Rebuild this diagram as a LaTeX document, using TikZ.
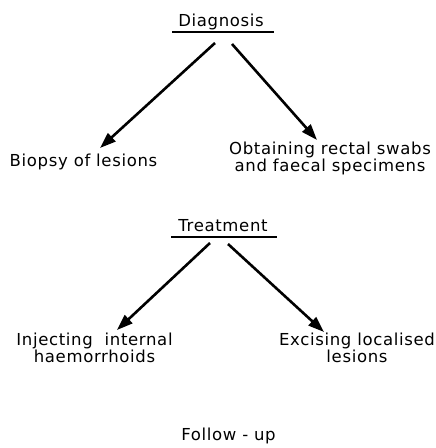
\documentclass[tikz,border=0pt]{standalone}
\usepackage{fontspec}
\setmainfont{DejaVu Sans}
\usetikzlibrary{arrows.meta}

\begin{document}
\begin{tikzpicture}[x=1pt,y=1pt,
  txt/.style={inner sep=0pt,anchor=base,align=center,font=\fontsize{16.5}{17}\selectfont\addfontfeatures{LetterSpace=4}},
  arr/.style={line width=2.6pt,-{Triangle[length=16pt,width=11pt]}},
  uline/.style={line width=1.5pt}]
\useasboundingbox (0,0) rectangle (436,448);
\node[txt] (diag) at (221,421) {Diagnosis};
\node[txt] (biopsy) at (83.5,281) {Biopsy of lesions};
\node[txt] (swabs) at (330,276) {Obtaining rectal swabs\\and faecal specimens};
\node[txt] (treat) at (223,216) {Treatment};
\node[txt] (inject) at (94.5,85) {Injecting\ \ internal\\haemorrhoids};
\node[txt] (excise) at (357,85) {Excising localised\\lesions};
\node[txt] (follow) at (228.5,7) {Follow - up};
\draw[uline] ([shift={(-49,-5)}]diag.base) -- ([shift={(53,-5)}]diag.base);
\draw[uline] ([shift={(-52,-5)}]treat.base) -- ([shift={(54,-5)}]treat.base);
\draw[arr] ([shift={(-6,-16)}]diag.base) -- ([shift={(16.5,19)}]biopsy.base);
\draw[arr] ([shift={(11,-17)}]diag.base) -- ([shift={(-13,32)}]swabs.base);
\draw[arr] ([shift={(-13,-11)}]treat.base) -- ([shift={(22.5,33)}]inject.base);
\draw[arr] ([shift={(5,-12)}]treat.base) -- ([shift={(-33,31)}]excise.base);
\end{tikzpicture}
\end{document}
